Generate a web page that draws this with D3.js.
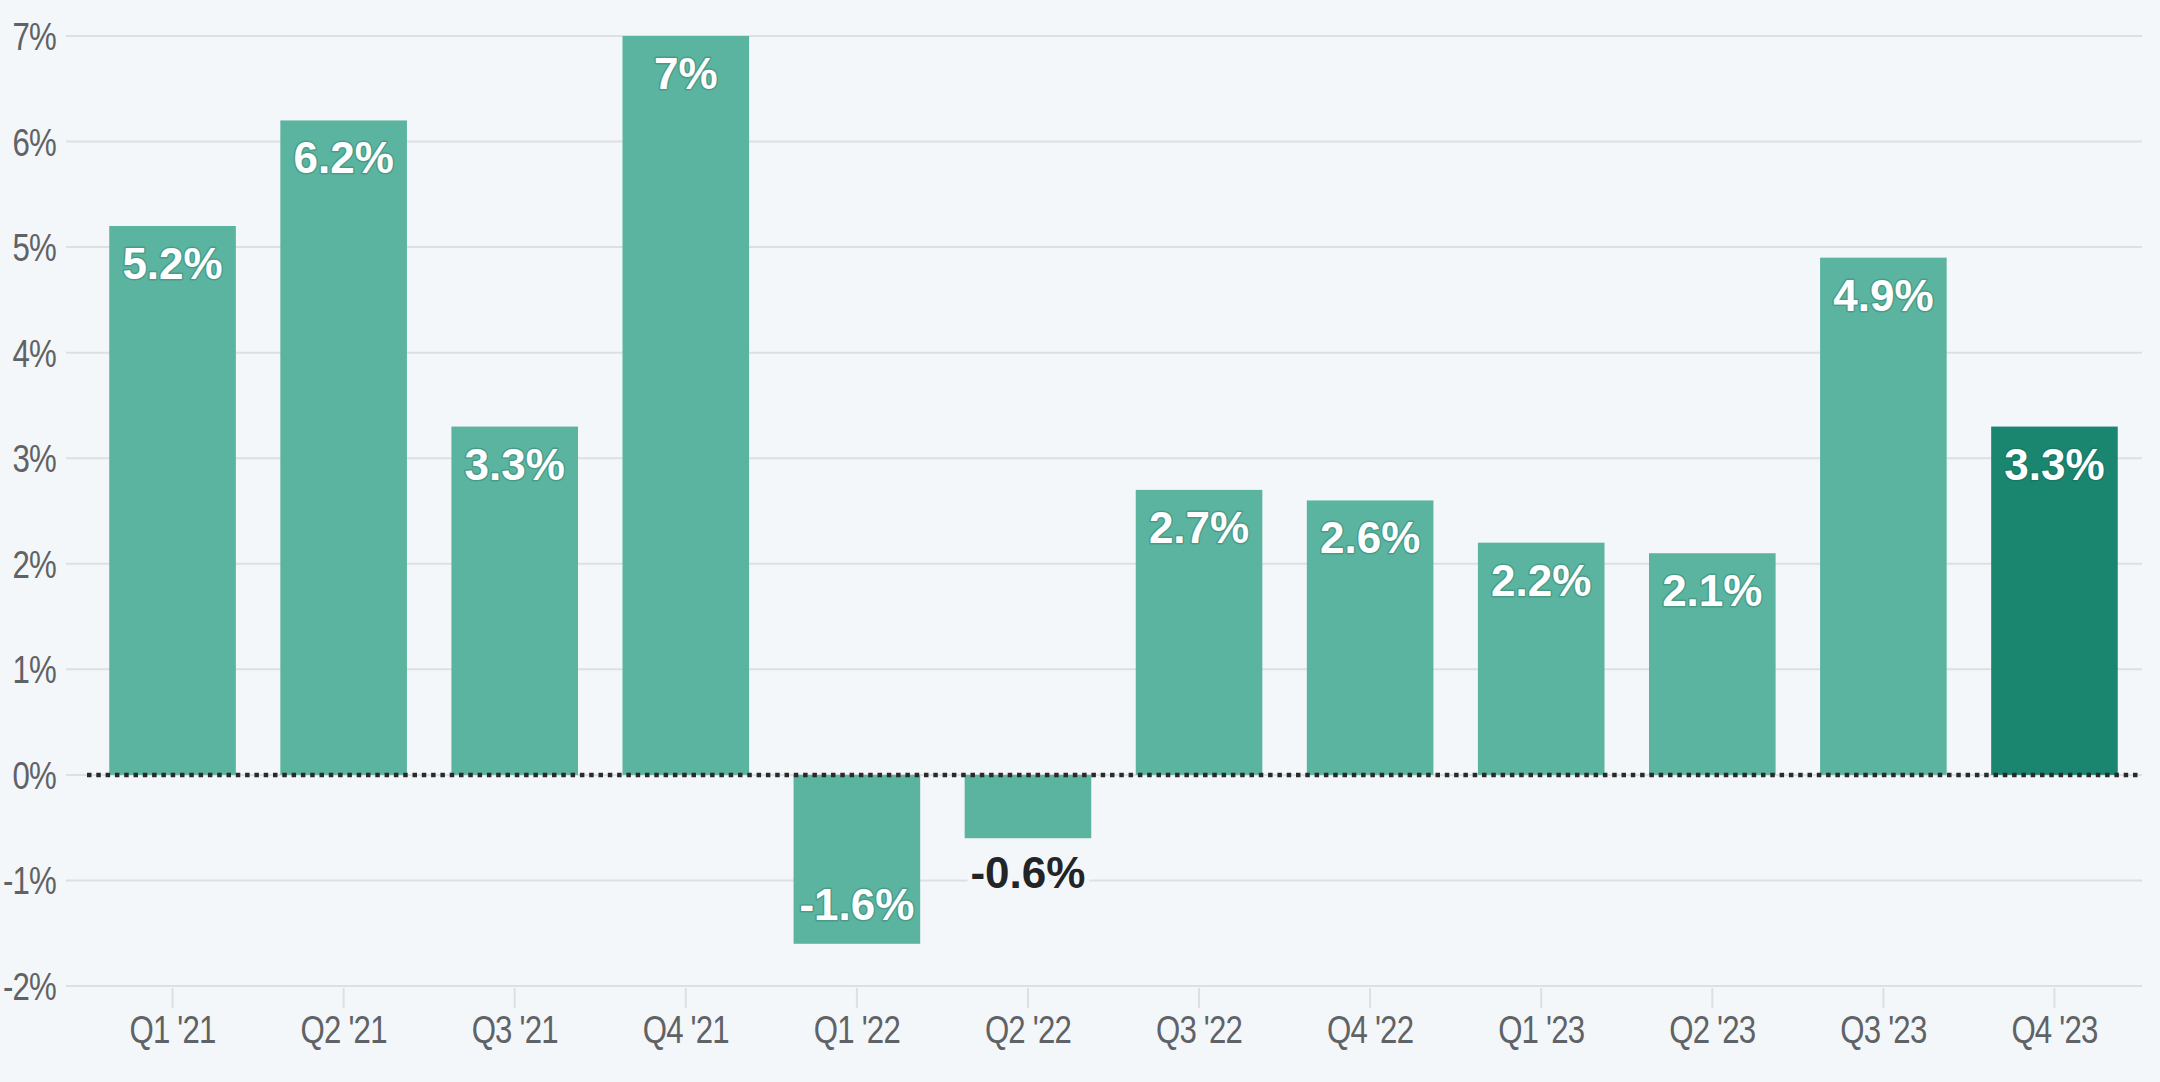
<!DOCTYPE html>
<html><head><meta charset="utf-8">
<script src="https://cdn.jsdelivr.net/npm/d3@7"></script>
<style>
html,body{margin:0;padding:0;background:#f4f7f9;}
svg{display:block;}
.ytick text{font-family:"Liberation Sans",Arial,sans-serif;font-size:39px;fill:#5f6266;letter-spacing:-1px;}
.xtick text{font-family:"Liberation Sans",Arial,sans-serif;font-size:39px;fill:#5f6266;letter-spacing:-1px;}
.lbl{font-family:"Liberation Sans",Arial,sans-serif;font-weight:bold;font-size:44px;letter-spacing:0px;}
</style></head>
<body>
<script>
const categories = ["Q1 '21","Q2 '21","Q3 '21","Q4 '21","Q1 '22","Q2 '22","Q3 '22","Q4 '22","Q1 '23","Q2 '23","Q3 '23","Q4 '23"];
const values = [5.2, 6.2, 3.3, 7, -1.6, -0.6, 2.7, 2.6, 2.2, 2.1, 4.9, 3.3];
const labels = ["5.2%","6.2%","3.3%","7%","-1.6%","-0.6%","2.7%","2.6%","2.2%","2.1%","4.9%","3.3%"];
const yTicks = [-2,-1,0,1,2,3,4,5,6,7];
const yTickLabels = ["-2%","-1%","0%","1%","2%","3%","4%","5%","6%","7%"];
const highlight = ["Q4 '23"];

const W = 2160, H = 1082;
const narrow = 0.8;
const svg = d3.select("body").append("svg").attr("width", W).attr("height", H);
svg.append("rect").attr("width", W).attr("height", H).attr("fill", "#f4f7f9");

const x = d3.scaleBand().domain(categories).range([87, 2140]).paddingInner(0.26).paddingOuter(0.13);
const y = d3.scaleLinear().domain([-2, 7]).range([986, 36]);

// gridlines
svg.append("g").selectAll("line").data(yTicks).join("line")
  .attr("x1", 66).attr("x2", 2142)
  .attr("y1", d => y(d)).attr("y2", d => y(d))
  .attr("stroke", "#dde0e3").attr("stroke-width", 2);

// y labels (condensed)
const yg = svg.append("g").attr("class", "ytick");
yg.selectAll("text").data(yTicks).join("text")
  .attr("transform", d => `translate(56,${y(d)}) scale(${narrow},1)`)
  .attr("dy", "0.36em")
  .attr("text-anchor", "end")
  .text((d, i) => yTickLabels[i]);

// x ticks & labels
const xg = svg.append("g").attr("class", "xtick");
xg.selectAll("line").data(categories).join("line")
  .attr("x1", d => x(d) + x.bandwidth() / 2).attr("x2", d => x(d) + x.bandwidth() / 2)
  .attr("y1", y(-2) + 2).attr("y2", y(-2) + 22)
  .attr("stroke", "#dde0e3").attr("stroke-width", 2);
xg.selectAll("text").data(categories).join("text")
  .attr("transform", d => `translate(${x(d) + x.bandwidth() / 2},1043) scale(${narrow},1)`)
  .attr("text-anchor", "middle")
  .text(d => d);

// bars
const data = categories.map((c, i) => ({c, v: values[i], l: labels[i]}));
svg.append("g").selectAll("rect").data(data).join("rect")
  .attr("x", d => x(d.c)).attr("width", x.bandwidth())
  .attr("y", d => y(Math.max(0, d.v)))
  .attr("height", d => Math.abs(y(d.v) - y(0)))
  .attr("fill", d => highlight.includes(d.c) ? "#1b8670" : "#5ab4a0");

// zero line (dotted)
svg.append("line")
  .attr("x1", x.range()[0]).attr("x2", x.range()[1])
  .attr("y1", y(0)).attr("y2", y(0))
  .attr("stroke", "#2a2a2a").attr("stroke-width", 4.5)
  .attr("stroke-dasharray", "4.5,4.8");

// value labels
const outside = d => d.v < 0 && Math.abs(y(d.v) - y(0)) <= 80;
svg.append("g").selectAll("text").data(data).join("text")
  .attr("class", "lbl")
  .attr("x", d => x(d.c) + x.bandwidth() / 2)
  .attr("y", d => {
    if (d.v >= 0) return y(d.v) + 53;
    if (!outside(d)) return y(d.v) - 24;
    return y(d.v) + 50;
  })
  .attr("text-anchor", "middle")
  .attr("fill", d => outside(d) ? "#222428" : "#ffffff")
  .attr("stroke", d => outside(d) ? "#f4f7f9" : "rgba(20,80,70,0.25)")
  .attr("stroke-width", d => outside(d) ? 10 : 3)
  .attr("stroke-linejoin", "round")
  .attr("paint-order", "stroke")
  .text(d => d.l);
</script>
</body></html>
